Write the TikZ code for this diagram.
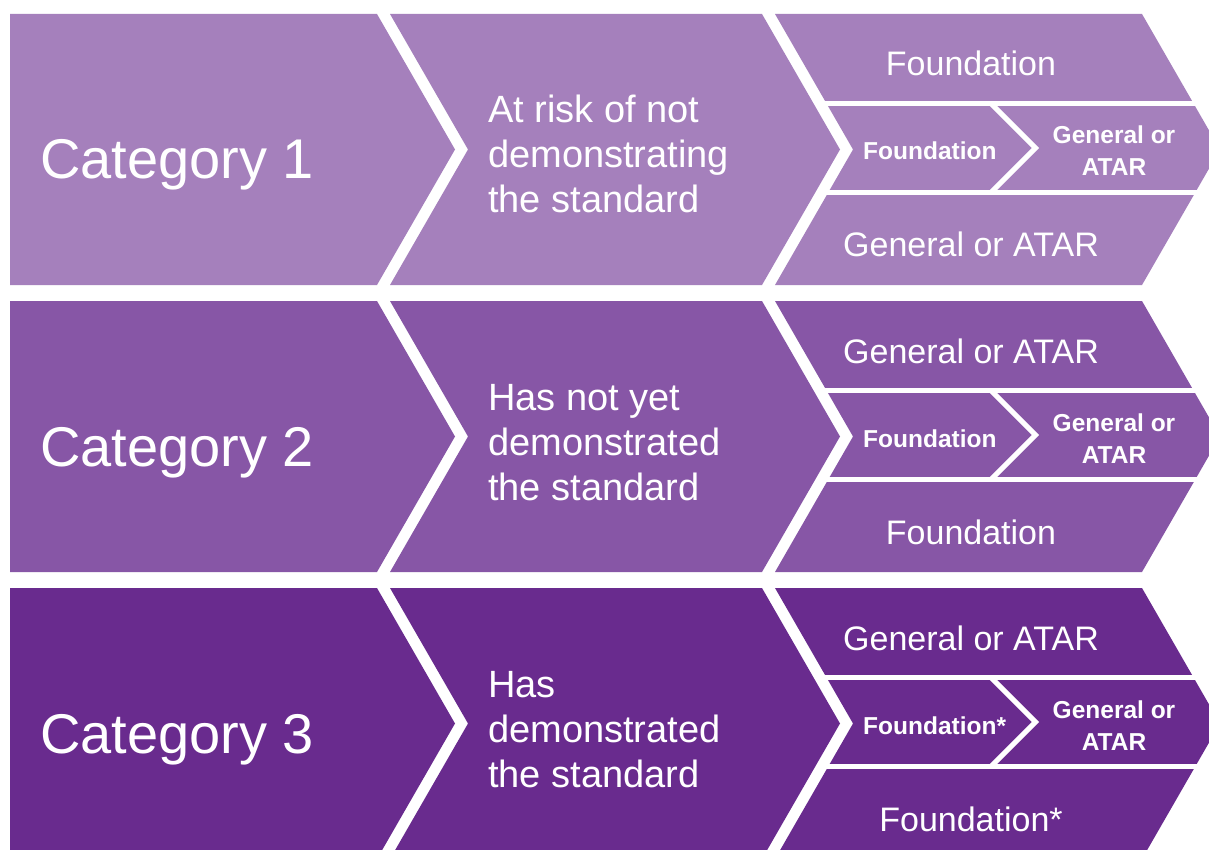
\documentclass[tikz,border=0pt]{standalone}
\usepackage{fontspec}
\setmainfont{Liberation Sans}
\definecolor{rowA}{HTML}{A580BC}
\definecolor{rowB}{HTML}{8756A6}
\definecolor{rowC}{HTML}{692B8E}
\tikzset{
  catlabel/.style={font=\fontsize{56}{60}\selectfont, text=white, inner sep=0pt, anchor=base west},
  midlabel/.style={font=\fontsize{38}{45}\selectfont, text=white, inner sep=0pt, align=left, anchor=base west},
  bandlabel/.style={font=\fontsize{34}{40}\selectfont, text=white, inner sep=0pt, anchor=base},
  smalllabel/.style={font=\fontsize{24.5}{32}\selectfont\bfseries, text=white, inner sep=0pt},
  gapline/.style={draw=white, line width=4.5pt},
}
% #1 index, #2 colour, #3 category, #4 middle text, #5 top band, #6 small left, #7 bottom band
\newcommand\chevrow[7]{%
\begin{scope}[yshift={-287pt*(#1-1)}]
  \fill[#2] (10,14) -- (377,14) -- (455,149.5) -- (377,285) -- (10,285) -- cycle;
  \fill[#2] (390,14) -- (762,14) -- (840,149.5) -- (762,285) -- (390,285) -- (468,149.5) -- cycle;
  \fill[#2] (775,14) -- (1142,14) -- (1220,149.5) -- (1142,285) -- (775,285) -- (853,149.5) -- cycle;
  \draw[gapline] (819,103.5) -- (1230,103.5);
  \draw[gapline] (821,192.3) -- (1230,192.3);
  \draw[gapline, line width=5pt] (991,103.5) -- (1035.5,148) -- (991,192.5);
  \node[catlabel] (cat#1) at (40,179) {#3};
  \node[midlabel] (mid#1) at (488,213) {#4};
  \node[bandlabel] (top#1) at (971,76) {#5};
  \node[smalllabel, anchor=base west] (sl#1) at (863,160) {#6};
  \node[smalllabel, anchor=base, align=center] (sr#1) at (1114,176) {General or\\ATAR};
  \node[bandlabel] (bot#1) at (971,257) {#7};
\end{scope}}
\begin{document}
\begin{tikzpicture}[x=1pt,y=-1pt]
\useasboundingbox (0,0) rectangle (1209,850);
\clip (0,0) rectangle (1209,850);
\fill[white] (0,0) rectangle (1209,850);
\chevrow{1}{rowA}{Category 1}{At risk of not\\demonstrating\\the standard}{Foundation}{Foundation}{General or ATAR}
\chevrow{2}{rowB}{Category 2}{Has not yet\\demonstrated\\the standard}{General or ATAR}{Foundation}{Foundation}
\chevrow{3}{rowC}{Category 3}{Has\\demonstrated\\the standard}{General or ATAR}{Foundation*}{Foundation*}
\end{tikzpicture}
\end{document}
